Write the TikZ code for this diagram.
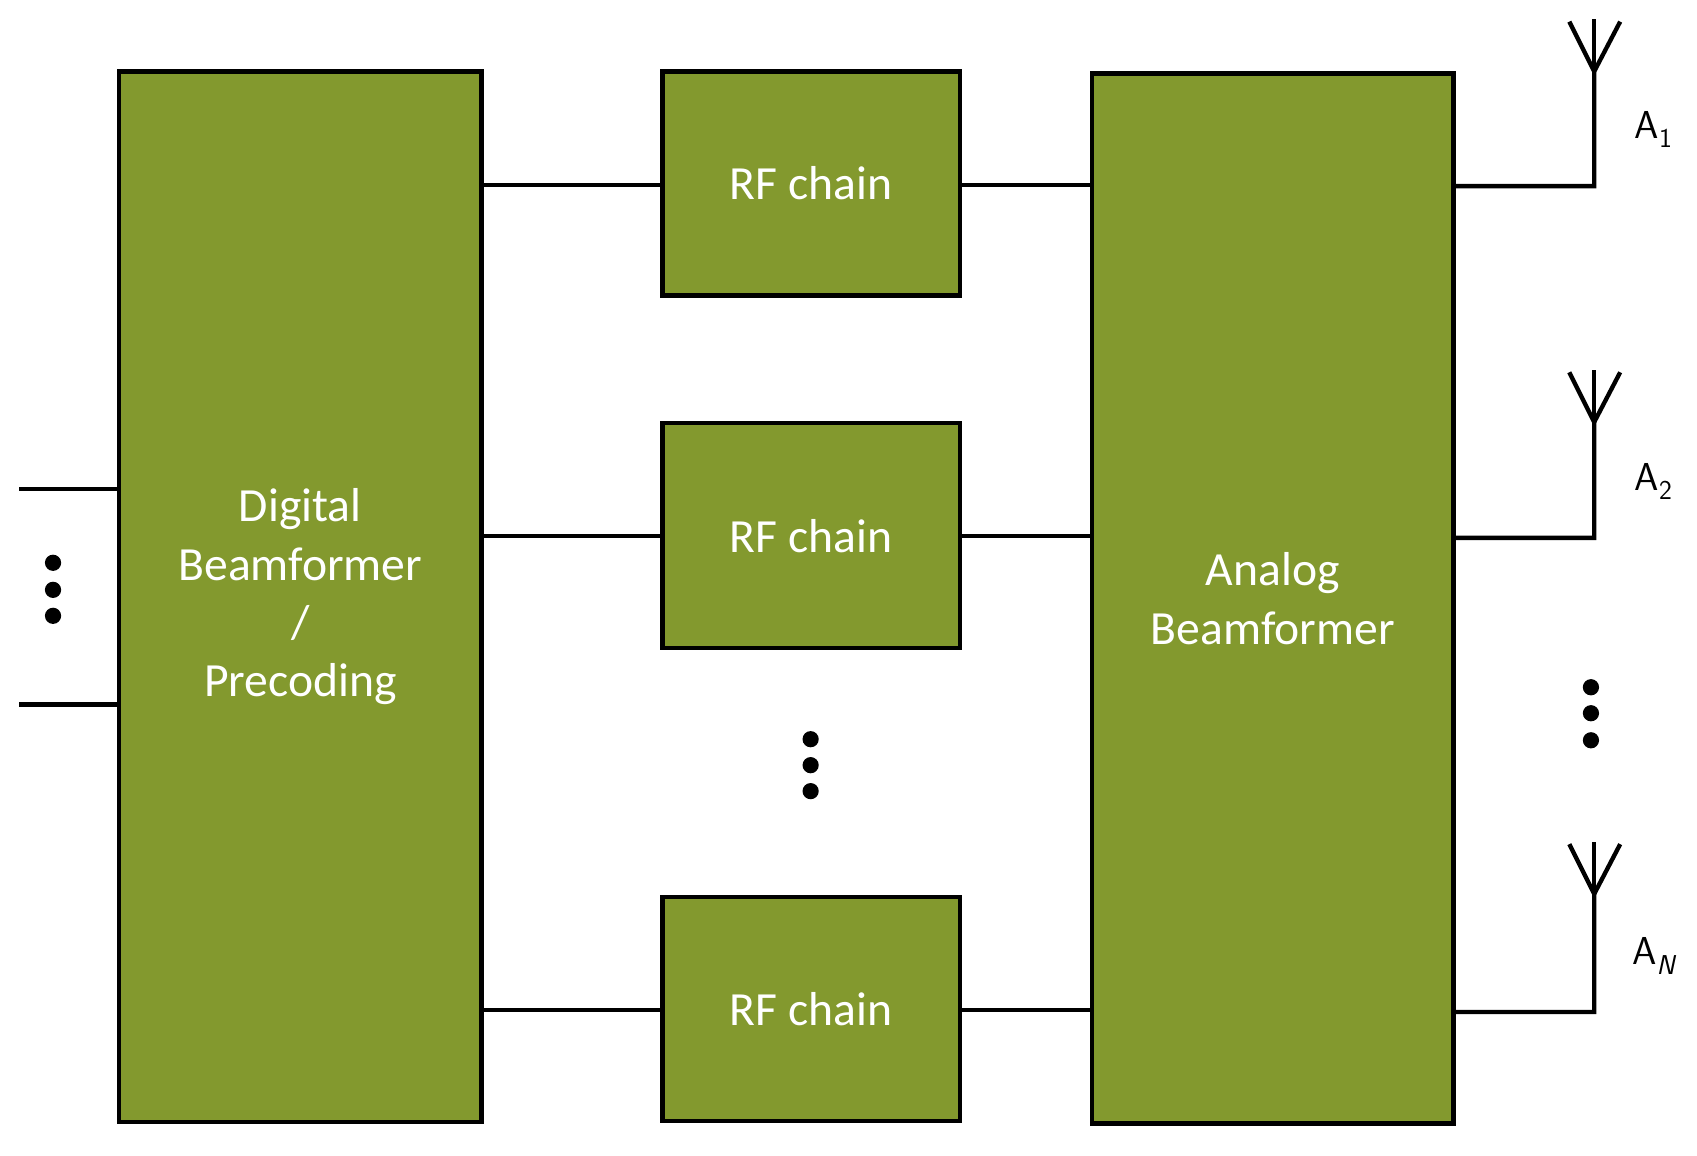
\documentclass[tikz,border=0pt]{standalone}
\usepackage{fontspec}
\setmainfont{Carlito}
\definecolor{olive}{HTML}{83992E}
\begin{document}
\begin{tikzpicture}[x=1pt,y=-1pt,line width=4pt,
 blk/.style={draw=black,fill=olive,text=white,font=\fontsize{44}{54}\selectfont,align=center,inner sep=0pt},
 dot/.style={circle,fill=black,inner sep=0pt,minimum size=15pt},
 lab/.style={font=\fontsize{36}{40}\selectfont}]
\useasboundingbox (0,0) rectangle (1568,1068);
\node[blk,minimum width=335pt,minimum height=971pt] (dig) at (277.5,551.5) {Digital\\Beamformer\\/\\Precoding};
\node[blk,minimum width=275pt,minimum height=207pt] (rf1) at (749.5,169.5) {RF chain};
\node[blk,minimum width=275pt,minimum height=208pt] (rf2) at (749.5,495) {RF chain};
\node[blk,minimum width=275pt,minimum height=207pt] (rf3) at (749.5,932.5) {RF chain};
\node[blk,minimum width=334pt,minimum height=970pt] (ana) at (1176,553) {Analog\\Beamformer};
\coordinate (i1) at (18,452); \coordinate (i2) at (18,651);
\draw (i1) -- (i1 -| dig.west); \draw (i2) -- (i2 -| dig.west);
\foreach \r/\y in {rf1/171,rf2/495,rf3/933}{
 \draw (dig.east |- 0,\y) -- (\r.west |- 0,\y);
 \draw (\r.east |- 0,\y) -- (ana.west |- 0,\y);}
\foreach \i/\y/\t/\l in {1/172/66/A$_1$,2/497/390/A$_2$,3/935/826/A$_N$}{
 \coordinate (f\i) at (1473,\t);
 \coordinate (l\i) at (1450,\t-46); \coordinate (r\i) at (1497,\t-46);
 \draw[line join=miter] (ana.east |- 0,\y) -- (1473,\y) -- (f\i) -- (l\i);
 \draw (f\i) -- (r\i);
 \draw (f\i) -- (1473,\t-48);
 \node[lab] (lab\i) at (1528,\y-52) {\sffamily A\textsubscript{\ifnum\i=3\itshape N\else\i\fi}};
}
\foreach \x/\y in {49/520,49/545,49/569,749/683,749/707,749/731,1470/635,1470/659,1470/684}
 \node[dot] at (\x,\y) {};
\end{tikzpicture}
\end{document}
